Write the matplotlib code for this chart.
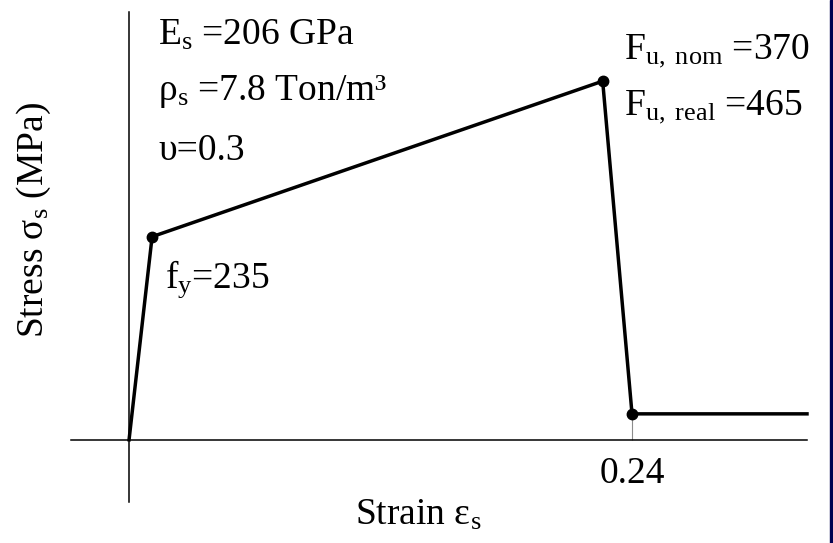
import matplotlib
matplotlib.use('Agg')
import matplotlib.pyplot as plt
from matplotlib.patches import Rectangle

# Idealised steel stress-strain curve (strain, stress in MPa)
strain = [0.0, 0.011, 0.226, 0.240, 0.3235]
stress = [0.0, 235.0, 415.0, 30.0, 30.0]
marked = [1, 2, 3]          # points drawn with a dot
fracture_strain = 0.24
xtick_labels = ['0.24']

plt.rcParams['font.family'] = ['Liberation Serif', 'DejaVu Serif']
plt.rcParams['mathtext.fontset'] = 'custom'
plt.rcParams['mathtext.rm'] = 'Liberation Serif'
plt.rcParams['mathtext.it'] = 'Liberation Serif:italic'

W, H = 833, 543
fig = plt.figure(figsize=(W / 100, H / 100), dpi=100)
ax = fig.add_axes([71 / W, 41 / H, (807 - 71) / W, (502 - 12) / H])
ax.set_xlim(-0.0277, 0.3235)
ax.set_ylim(-72, 495)

# axes through the origin
for s in ['top', 'right']:
    ax.spines[s].set_visible(False)
ax.spines['left'].set_position(('data', 0))
ax.spines['bottom'].set_position(('data', 0))
for s in ['left', 'bottom']:
    ax.spines[s].set_linewidth(1.1)
ax.set_yticks([])
ax.set_xticks([fracture_strain])
ax.set_xticklabels(xtick_labels, fontsize=27)
ax.tick_params(axis='x', length=0, pad=12)
ax.vlines(fracture_strain, 0, stress[3], color='0.55', lw=0.8, zorder=1)

ax.plot(strain, stress, color='black', lw=2.5, clip_on=False, zorder=3)
ax.plot([strain[i] for i in marked], [stress[i] for i in marked], 'o',
        color='black', ms=7.5, clip_on=False, zorder=4)

fs = 27
ax.text(0.0140, 457, r'E$_\mathrm{s}$ =206 GPa', fontsize=fs, va='baseline')
ax.text(0.0140, 393, r'ρ$_\mathrm{s}$ =7.8 Ton/m³', fontsize=fs, va='baseline')
ax.text(0.0140, 324, 'υ=0.3', fontsize=fs, va='baseline')
ax.text(0.0170, 176, r'f$_\mathrm{y}$=235', fontsize=fs, va='baseline')
ax.text(0.2360, 440, r'F$_\mathrm{u,\ nom}$ =370', fontsize=fs, va='baseline')
ax.text(0.2360, 376, r'F$_\mathrm{u,\ real}$ =465', fontsize=fs, va='baseline')

fig.text(418 / W, 1 - 515 / H, r'Strain ε$_\mathrm{s}$', fontsize=fs,
         ha='center', va='center')
fig.text(34 / W, 1 - 220 / H, r'Stress σ$_\mathrm{s}$ (MPa)', fontsize=fs,
         ha='center', va='center', rotation=90)

# dark frame edge on the right
fig.patches.append(Rectangle((830 / W, 0), 3 / W, 1, transform=fig.transFigure,
                             color='#000050', zorder=10))

fig.savefig('out.png', dpi=100)
